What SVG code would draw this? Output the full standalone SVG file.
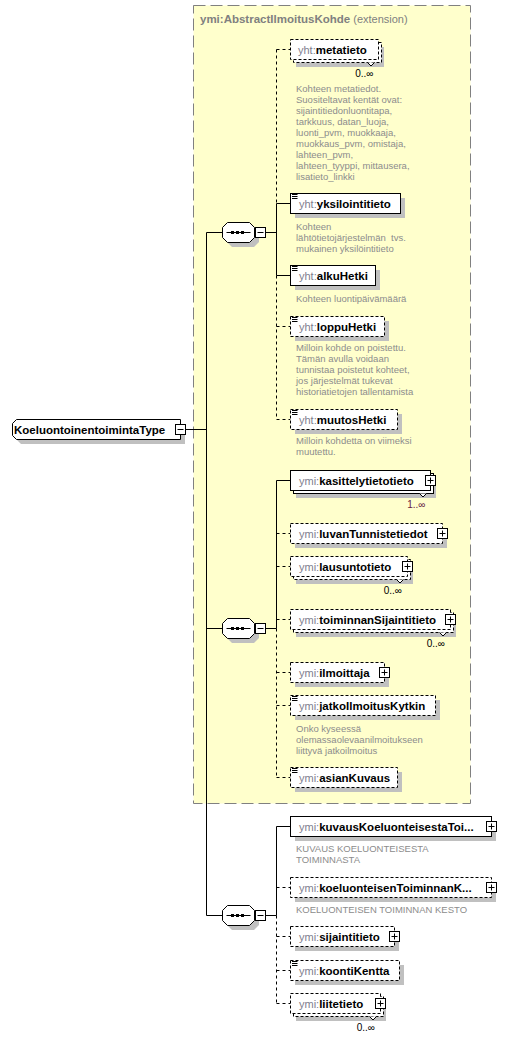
<svg xmlns="http://www.w3.org/2000/svg" xmlns:xlink="http://www.w3.org/1999/xlink" width="520" height="1039" viewBox="0 0 520 1039">
<style>
.box{fill:#fff;stroke:#000;stroke-width:1}
.opt{stroke-dasharray:3,2}
.sh{fill:#c0c0c0;stroke:none}
.t{font-family:"Liberation Sans",Arial,sans-serif;font-size:11px}
.pfx{fill:#80808f}
.nm{font-weight:bold;fill:#000;font-size:11.5px}
.desc{font-family:"Liberation Sans",Arial,sans-serif;font-size:9.5px;fill:#8c8c8c}
.mult{font-family:"Liberation Sans",Arial,sans-serif;font-size:10px;fill:#000;text-anchor:end}
.dl{stroke-dasharray:3,3}
</style>
<defs>
<g id="plus"><rect x="-4.5" y="-4.5" width="10" height="10" fill="#fff" stroke="#000"/><path d="M-2.5 0.5H3.5M0.5 -2.5V3.5" stroke="#000"/></g>
<g id="minus"><rect x="-4.5" y="-4.5" width="10" height="10" fill="#fff" stroke="#000"/><path d="M-2.5 0.5H3.5" stroke="#000"/></g>
<g id="doc"><path d="M2 1.5H7.5M2 3.5H7.5M2 5.5H7.5" stroke="#000"/></g>
<g id="seq">
<path class="sh" transform="translate(4.5,4.5)" d="M5.5 -9.5H27.5L32.5 -4.5V5.5L27.5 10.5H5.5L0.5 5.5V-4.5Z"/>
<path class="box" d="M5.5 -9.5H27.5L32.5 -4.5V5.5L27.5 10.5H5.5L0.5 5.5V-4.5Z"/>
<path d="M4.5 0.5H28.5" stroke="#000"/>
<rect x="9" y="-1" width="3" height="3" fill="#000"/>
<rect x="14" y="-1" width="3" height="3" fill="#000"/>
<rect x="19" y="-1" width="3" height="3" fill="#000"/>
<use xlink:href="#minus" x="38" y="0"/>
</g>
</defs>
<rect x="0" y="0" width="520" height="1039" fill="#fff"/>

<g id="extension">
<rect x="193.5" y="5.5" width="277" height="798" fill="#ffffcc" stroke="#808080" stroke-dasharray="12,5"/>
<text class="t" x="200" y="23" fill="#808080"><tspan font-weight="bold" font-size="11.5px">ymi:AbstractIlmoitusKohde</tspan> (extension)</text>
</g>

<g id="connectors" fill="none" stroke="#000">
<path d="M185.5 429.5H206.5M206.5 232.5V915.5M206.5 232.5H222.5M206.5 628.5H222.5M206.5 915.5H222.5"/>
<path d="M265.5 232.5H276.5M265.5 628.5H276.5M265.5 915.5H276.5"/>
<path d="M276.5 203.5V275.5M276.5 203.5H290.5M276.5 275.5H290.5"/>
<path class="dl" d="M276.5 49.5V203.5M276.5 275.5V419.5M276.5 49.5H290.5M276.5 326.5H290.5M276.5 419.5H290.5"/>
<path d="M276.5 480.5V628.5M276.5 480.5H290.5"/>
<path class="dl" d="M276.5 628.5V777.5M276.5 533.5H290.5M276.5 566.5H290.5M276.5 619.5H290.5M276.5 672.5H290.5M276.5 705.5H290.5M276.5 777.5H290.5"/>
<path d="M276.5 826.5V915.5M276.5 826.5H290.5"/>
<path class="dl" d="M276.5 915.5V1003.5M276.5 887.5H290.5M276.5 936.5H290.5M276.5 970.5H290.5M276.5 1003.5H290.5"/>
</g>

<g id="root">
<path class="sh" d="M21 424H185V444H21L17 440V428Z"/>
<path class="box" d="M16.5 419.5H180.5V439.5H16.5L12.5 435.5V423.5Z"/>
<text class="t" x="14" y="433.5"><tspan class="nm">KoeluontoinentoimintaType</tspan></text>
<use xlink:href="#minus" x="180" y="429"/>
</g>

<g id="seq1"><use xlink:href="#seq" x="222" y="232"/></g>
<g id="seq2"><use xlink:href="#seq" x="222" y="628"/></g>
<g id="seq3"><use xlink:href="#seq" x="222" y="915"/></g>

<g id="metatieto">
<rect class="sh" x="296" y="47" width="88" height="20"/>
<rect class="box opt" x="293.5" y="42.5" width="88" height="20"/>
<rect class="box opt" x="290.5" y="39.5" width="88" height="20"/>
<path d="M367.5 62.5L371 66L374.5 62.5" fill="#fff" stroke="#000"/>
<text class="t" x="298" y="53.5"><tspan class="pfx">yht:</tspan><tspan class="nm">metatieto</tspan></text>
<text class="mult" x="373.5" y="76.5">0..∞</text>
<text class="desc" x="296" y="91.5">Kohteen metatiedot.</text>
<text class="desc" x="296" y="102.5">Suositeltavat kentät ovat:</text>
<text class="desc" x="296" y="113.5">sijaintitiedonluontitapa,</text>
<text class="desc" x="296" y="124.5">tarkkuus, datan_luoja,</text>
<text class="desc" x="296" y="135.5">luonti_pvm, muokkaaja,</text>
<text class="desc" x="296" y="146.5">muokkaus_pvm, omistaja,</text>
<text class="desc" x="296" y="157.5">lahteen_pvm,</text>
<text class="desc" x="296" y="168.5">lahteen_tyyppi, mittausera,</text>
<text class="desc" x="296" y="179.5">lisatieto_linkki</text>
</g>

<g id="yksilointitieto">
<rect class="sh" x="295" y="198" width="110" height="20"/>
<rect class="box" x="290.5" y="193.5" width="110" height="20"/>
<use xlink:href="#doc" x="290" y="193"/>
<text class="t" x="299" y="207.5"><tspan class="pfx">yht:</tspan><tspan class="nm">yksilointitieto</tspan></text>
<text class="desc" x="296" y="229.5">Kohteen</text>
<text class="desc" x="296" y="240.5" xml:space="preserve">lähtötietojärjestelmän  tvs.</text>
<text class="desc" x="296" y="251.5">mukainen yksilöintitieto</text>
</g>

<g id="alkuHetki">
<rect class="sh" x="295" y="270" width="85" height="20"/>
<rect class="box" x="290.5" y="265.5" width="85" height="20"/>
<use xlink:href="#doc" x="290" y="265"/>
<text class="t" x="299" y="279.5"><tspan class="pfx">yht:</tspan><tspan class="nm">alkuHetki</tspan></text>
<text class="desc" x="296" y="301.5">Kohteen luontipäivämäärä</text>
</g>

<g id="loppuHetki">
<rect class="sh" x="295" y="321" width="94" height="20"/>
<rect class="box opt" x="290.5" y="316.5" width="94" height="20"/>
<use xlink:href="#doc" x="290" y="316"/>
<text class="t" x="299" y="330.5"><tspan class="pfx">yht:</tspan><tspan class="nm">loppuHetki</tspan></text>
<text class="desc" x="296" y="350.5">Milloin kohde on poistettu.</text>
<text class="desc" x="296" y="361.5">Tämän avulla voidaan</text>
<text class="desc" x="296" y="372.5">tunnistaa poistetut kohteet,</text>
<text class="desc" x="296" y="383.5">jos järjestelmät tukevat</text>
<text class="desc" x="296" y="394.5">historiatietojen tallentamista</text>
</g>

<g id="muutosHetki">
<rect class="sh" x="295" y="414" width="107" height="20"/>
<rect class="box opt" x="290.5" y="409.5" width="107" height="20"/>
<use xlink:href="#doc" x="290" y="409"/>
<text class="t" x="299" y="423.5"><tspan class="pfx">yht:</tspan><tspan class="nm">muutosHetki</tspan></text>
<text class="desc" x="296" y="444">Milloin kohdetta on viimeksi</text>
<text class="desc" x="296" y="455">muutettu.</text>
</g>

<g id="kasittelytietotieto">
<rect class="sh" x="296" y="478" width="140" height="20"/>
<rect class="box" x="293.5" y="473.5" width="140" height="20"/>
<rect class="box" x="290.5" y="470.5" width="140" height="20"/>
<path d="M419.5 493.5L423 497L426.5 493.5" fill="#fff" stroke="#000"/>
<text class="t" x="299" y="484.5"><tspan class="pfx">ymi:</tspan><tspan class="nm">kasittelytietotieto</tspan></text>
<use xlink:href="#plus" x="430" y="480"/>
<text class="mult" x="425.5" y="507.5" fill="#662244" style="fill:#662244">1..∞</text>
</g>

<g id="luvanTunnistetiedot">
<rect class="sh" x="295" y="528" width="152" height="20"/>
<rect class="box opt" x="290.5" y="523.5" width="152" height="20"/>
<text class="t" x="299" y="537.5"><tspan class="pfx">ymi:</tspan><tspan class="nm">luvanTunnistetiedot</tspan></text>
<use xlink:href="#plus" x="442" y="533"/>
</g>

<g id="lausuntotieto">
<rect class="sh" x="296" y="564" width="117" height="20"/>
<rect class="box opt" x="293.5" y="559.5" width="117" height="20"/>
<rect class="box opt" x="290.5" y="556.5" width="117" height="20"/>
<path d="M396.5 579.5L400 583L403.5 579.5" fill="#fff" stroke="#000"/>
<text class="t" x="299" y="570.5"><tspan class="pfx">ymi:</tspan><tspan class="nm">lausuntotieto</tspan></text>
<use xlink:href="#plus" x="407" y="566"/>
<text class="mult" x="402" y="593.5">0..∞</text>
</g>

<g id="toiminnanSijaintitieto">
<rect class="sh" x="296" y="617" width="160" height="20"/>
<rect class="box opt" x="293.5" y="612.5" width="160" height="20"/>
<rect class="box opt" x="290.5" y="609.5" width="160" height="20"/>
<path d="M439.5 632.5L443 636L446.5 632.5" fill="#fff" stroke="#000"/>
<text class="t" x="299" y="623.5"><tspan class="pfx">ymi:</tspan><tspan class="nm">toiminnanSijaintitieto</tspan></text>
<use xlink:href="#plus" x="450" y="619"/>
<text class="mult" x="445" y="646.5">0..∞</text>
</g>

<g id="ilmoittaja">
<rect class="sh" x="295" y="667" width="94" height="20"/>
<rect class="box opt" x="290.5" y="662.5" width="94" height="20"/>
<text class="t" x="299" y="676.5"><tspan class="pfx">ymi:</tspan><tspan class="nm">ilmoittaja</tspan></text>
<use xlink:href="#plus" x="384" y="672"/>
</g>

<g id="jatkoIlmoitusKytkin">
<rect class="sh" x="295" y="700" width="145" height="20"/>
<rect class="box opt" x="290.5" y="695.5" width="145" height="20"/>
<use xlink:href="#doc" x="290" y="695"/>
<text class="t" x="299" y="709.5"><tspan class="pfx">ymi:</tspan><tspan class="nm">jatkoIlmoitusKytkin</tspan></text>
<text class="desc" x="296" y="731.5">Onko kyseessä</text>
<text class="desc" x="296" y="742.5">olemassaolevaanilmoitukseen</text>
<text class="desc" x="296" y="753.5">liittyvä jatkoilmoitus</text>
</g>

<g id="asianKuvaus">
<rect class="sh" x="295" y="772" width="107" height="20"/>
<rect class="box opt" x="290.5" y="767.5" width="107" height="20"/>
<use xlink:href="#doc" x="290" y="767"/>
<text class="t" x="299" y="781.5"><tspan class="pfx">ymi:</tspan><tspan class="nm">asianKuvaus</tspan></text>
</g>

<g id="kuvausKoeluonteisestaToiminnasta">
<rect class="sh" x="295" y="821" width="201" height="20"/>
<rect class="box" x="290.5" y="816.5" width="201" height="20"/>
<text class="t" x="299" y="830.5"><tspan class="pfx">ymi:</tspan><tspan class="nm">kuvausKoeluonteisestaToi...</tspan></text>
<use xlink:href="#plus" x="491" y="826"/>
<text class="desc" x="296" y="851.5">KUVAUS KOELUONTEISESTA</text>
<text class="desc" x="296" y="862.5">TOIMINNASTA</text>
</g>

<g id="koeluonteisenToiminnanKesto">
<rect class="sh" x="295" y="882" width="201" height="20"/>
<rect class="box opt" x="290.5" y="877.5" width="201" height="20"/>
<text class="t" x="299" y="891.5"><tspan class="pfx">ymi:</tspan><tspan class="nm">koeluonteisenToiminnanK...</tspan></text>
<use xlink:href="#plus" x="491" y="887"/>
<text class="desc" x="296" y="912.5">KOELUONTEISEN TOIMINNAN KESTO</text>
</g>

<g id="sijaintitieto">
<rect class="sh" x="295" y="931" width="104" height="20"/>
<rect class="box opt" x="290.5" y="926.5" width="104" height="20"/>
<text class="t" x="299" y="940.5"><tspan class="pfx">ymi:</tspan><tspan class="nm">sijaintitieto</tspan></text>
<use xlink:href="#plus" x="394" y="936"/>
</g>

<g id="koontiKentta">
<rect class="sh" x="295" y="965" width="109" height="20"/>
<rect class="box opt" x="290.5" y="960.5" width="109" height="20"/>
<use xlink:href="#doc" x="290" y="960"/>
<text class="t" x="299" y="974.5"><tspan class="pfx">ymi:</tspan><tspan class="nm">koontiKentta</tspan></text>
</g>

<g id="liitetieto">
<rect class="sh" x="296" y="1001" width="90" height="20"/>
<rect class="box opt" x="293.5" y="996.5" width="90" height="20"/>
<rect class="box opt" x="290.5" y="993.5" width="90" height="20"/>
<path d="M369.5 1016.5L373 1020L376.5 1016.5" fill="#fff" stroke="#000"/>
<text class="t" x="299" y="1007.5"><tspan class="pfx">ymi:</tspan><tspan class="nm">liitetieto</tspan></text>
<use xlink:href="#plus" x="380" y="1003"/>
<text class="mult" x="375" y="1030.5">0..∞</text>
</g>
</svg>
